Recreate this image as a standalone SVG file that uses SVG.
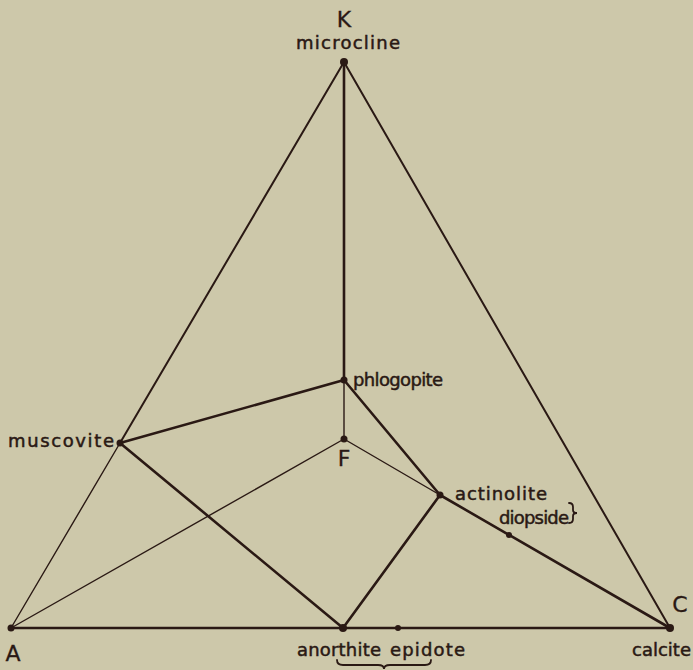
<svg xmlns="http://www.w3.org/2000/svg" width="693" height="670" viewBox="0 0 693 670">
<style>
.bg{fill:#cdc8aa}
.ln{stroke:#2a1914;fill:none;stroke-linecap:round}
.thin{stroke-width:1.4}
.med{stroke-width:2}
.thick{stroke-width:2.6}
.dot{fill:#2a1914}
.lbl{font-family:"DejaVu Sans","Liberation Sans",sans-serif;font-size:18px;fill:#2a1914;stroke:#2a1914;stroke-width:0.5}
.big{font-family:"DejaVu Sans","Liberation Sans",sans-serif;font-size:22px;fill:#2a1914;stroke:#2a1914;stroke-width:0.3}
.br{stroke:#2a1914;fill:none;stroke-width:1.8;stroke-linecap:round}
</style>
<rect class="bg" x="0" y="0" width="693" height="670"/>
<g id="connectors">
<line class="ln thin" x1="11" y1="628" x2="120" y2="443"/>
<line class="ln med" x1="120" y1="443" x2="344" y2="62"/>
<line class="ln med" x1="344" y1="62" x2="670" y2="628"/>
<line class="ln thick" x1="11" y1="628" x2="670" y2="628"/>
<line class="ln thick" x1="344" y1="62" x2="344" y2="380"/>
<line class="ln thin" x1="344" y1="380" x2="344" y2="439"/>
<line class="ln thin" x1="11" y1="628" x2="344" y2="439"/>
<line class="ln thin" x1="344" y1="439" x2="440" y2="495"/>
<line class="ln thick" x1="440" y1="495" x2="670" y2="628"/>
<line class="ln thick" x1="120" y1="443" x2="344" y2="380"/>
<line class="ln thick" x1="120" y1="443" x2="343" y2="628"/>
<line class="ln thick" x1="343" y1="628" x2="440" y2="495"/>
<line class="ln thick" x1="344" y1="380" x2="440" y2="495"/>
</g>
<g id="K"><circle class="dot" cx="344" cy="62" r="4"/><text class="big" x="344" y="27" text-anchor="middle">K</text><text class="lbl" x="296" y="49" textLength="104" lengthAdjust="spacing">microcline</text></g>
<g id="A"><circle class="dot" cx="11" cy="628" r="3.5"/><text class="big" x="13" y="661" text-anchor="middle">A</text></g>
<g id="C"><circle class="dot" cx="670" cy="628" r="4"/><text class="big" x="680" y="612" text-anchor="middle">C</text><text class="lbl" x="632" y="656" textLength="59" lengthAdjust="spacing">calcite</text></g>
<g id="phlogopite"><circle class="dot" cx="344" cy="380" r="3.5"/><text class="lbl" x="353" y="386" textLength="90" lengthAdjust="spacing">phlogopite</text></g>
<g id="F"><circle class="dot" cx="344" cy="439" r="3.5"/><text class="big" x="344" y="466" text-anchor="middle">F</text></g>
<g id="muscovite"><circle class="dot" cx="120" cy="443" r="3.5"/><text class="lbl" x="8" y="447" textLength="106" lengthAdjust="spacing">muscovite</text></g>
<g id="actinolite"><circle class="dot" cx="440" cy="495" r="3.5"/><text class="lbl" x="455" y="500" textLength="92" lengthAdjust="spacing">actinolite</text></g>
<g id="diopside"><circle class="dot" cx="509" cy="535" r="3"/><text class="lbl" x="499" y="524" textLength="70" lengthAdjust="spacing">diopside</text><path class="br" d="M569,503 Q573,503 573,507 L573,510 Q573,513 577,513 Q573,513 573,516 L573,519 Q573,523 569,523"/></g>
<g id="anorthite"><circle class="dot" cx="343" cy="628" r="4"/><text class="lbl" x="297" y="656" textLength="84" lengthAdjust="spacing">anorthite</text></g>
<g id="epidote"><circle class="dot" cx="398" cy="628" r="3"/><text class="lbl" x="390" y="656" textLength="75" lengthAdjust="spacing">epidote</text></g>
<g id="bracket"><path class="br" d="M337,660 Q337,665 343,665 L378,665 Q384,665 384,669 Q384,665 390,665 L425,665 Q431,665 431,660"/></g>
</svg>
